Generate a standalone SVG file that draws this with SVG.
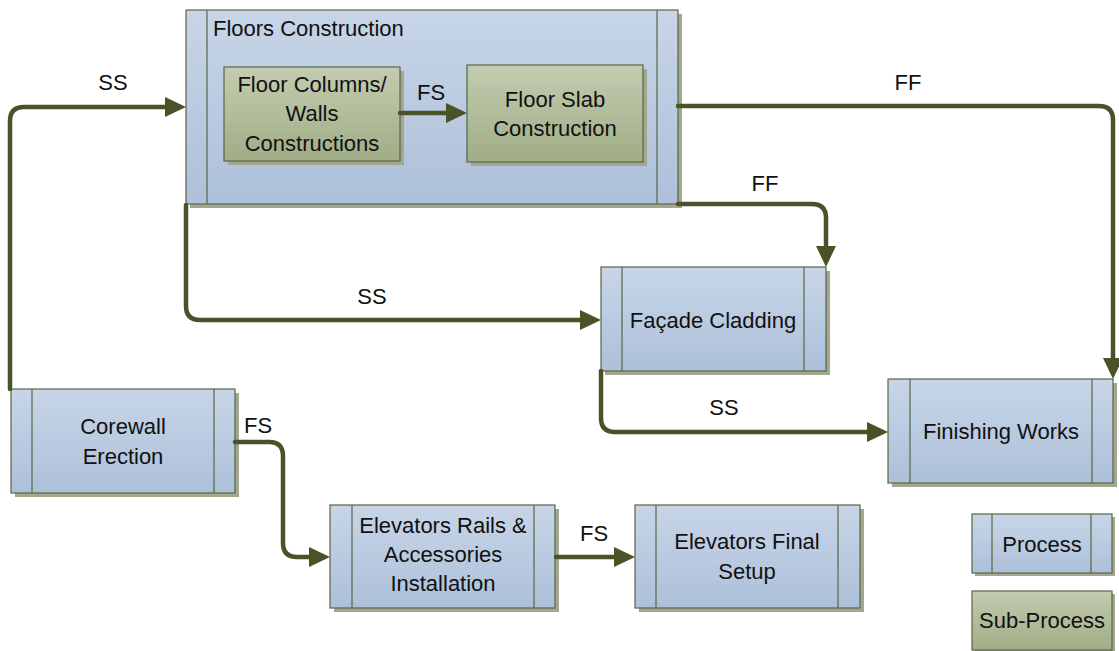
<svg xmlns="http://www.w3.org/2000/svg" width="1119" height="651" viewBox="0 0 1119 651">
  <defs>
    <linearGradient id="procFill" x1="0" y1="0" x2="0" y2="1">
      <stop offset="0" stop-color="#c7d5e7"/>
      <stop offset="1" stop-color="#adc0da"/>
    </linearGradient>
    <linearGradient id="subFill" x1="0" y1="0" x2="0" y2="1">
      <stop offset="0" stop-color="#c3ccb0"/>
      <stop offset="1" stop-color="#a0ad86"/>
    </linearGradient>
    <marker id="arrow" markerUnits="userSpaceOnUse" markerWidth="22" markerHeight="20" refX="0" refY="10" orient="auto" overflow="visible">
      <path d="M0,0 L21,10 L0,20 Z" fill="#4a5228"/>
    </marker>
  </defs>
  <style>
    .shadow { fill: #a3a78f; }
    .proc { fill: url(#procFill); stroke: #5a6446; stroke-width: 1.2; }
    .sub { fill: url(#subFill); stroke: #5a6446; stroke-width: 1.2; }
    .bar { stroke: #5a6446; stroke-width: 1.2; }
    .label { font-family: "Liberation Sans", Arial, sans-serif; font-size: 22px; fill: #111111; text-anchor: middle; }
    .title { font-family: "Liberation Sans", Arial, sans-serif; font-size: 22px; fill: #111111; }
    .conn { fill: none; stroke: #4a5228; stroke-width: 4.5; stroke-linecap: round; stroke-linejoin: round; }
    .arrowed { marker-end: url(#arrow); }
  </style>

  <rect width="1119" height="651" fill="#ffffff"/>

  <!-- Floors Construction (container process) -->
  <g id="floors-construction">
    <rect class="shadow" x="190" y="14" width="492" height="194"/>
    <rect class="proc" x="186" y="10" width="492" height="194"/>
    <line class="bar" x1="207" y1="10" x2="207" y2="204"/>
    <line class="bar" x1="657" y1="10" x2="657" y2="204"/>
    <text class="title" x="213" y="36">Floors Construction</text>
  </g>

  <!-- Sub-processes inside Floors Construction -->
  <g id="floor-columns">
    <rect class="shadow" x="228" y="71" width="176" height="94"/>
    <rect class="sub" x="224" y="67" width="176" height="94"/>
    <text class="label" x="312" y="92">Floor Columns/</text>
    <text class="label" x="312" y="121">Walls</text>
    <text class="label" x="312" y="151">Constructions</text>
  </g>

  <g id="floor-slab">
    <rect class="shadow" x="471" y="69" width="176" height="97"/>
    <rect class="sub" x="467" y="65" width="176" height="97"/>
    <text class="label" x="555" y="107">Floor Slab</text>
    <text class="label" x="555" y="136">Construction</text>
  </g>

  <!-- Processes -->
  <g id="corewall-erection">
    <rect class="shadow" x="15" y="393" width="224" height="104"/>
    <rect class="proc" x="11" y="389" width="224" height="104"/>
    <line class="bar" x1="32" y1="389" x2="32" y2="493"/>
    <line class="bar" x1="214" y1="389" x2="214" y2="493"/>
    <text class="label" x="123" y="434">Corewall</text>
    <text class="label" x="123" y="464">Erection</text>
  </g>

  <g id="facade-cladding">
    <rect class="shadow" x="605" y="271" width="225" height="104"/>
    <rect class="proc" x="601" y="267" width="225" height="104"/>
    <line class="bar" x1="622" y1="267" x2="622" y2="371"/>
    <line class="bar" x1="804" y1="267" x2="804" y2="371"/>
    <text class="label" x="713" y="328">Façade Cladding</text>
  </g>

  <g id="finishing-works">
    <rect class="shadow" x="892" y="383" width="225" height="104"/>
    <rect class="proc" x="888" y="379" width="225" height="104"/>
    <line class="bar" x1="910" y1="379" x2="910" y2="483"/>
    <line class="bar" x1="1092" y1="379" x2="1092" y2="483"/>
    <text class="label" x="1001" y="439">Finishing Works</text>
  </g>

  <g id="elevators-rails">
    <rect class="shadow" x="334" y="509" width="225" height="103"/>
    <rect class="proc" x="330" y="505" width="225" height="103"/>
    <line class="bar" x1="352" y1="505" x2="352" y2="608"/>
    <line class="bar" x1="534" y1="505" x2="534" y2="608"/>
    <text class="label" x="443" y="533">Elevators Rails &amp;</text>
    <text class="label" x="443" y="562">Accessories</text>
    <text class="label" x="443" y="591">Installation</text>
  </g>

  <g id="elevators-final-setup">
    <rect class="shadow" x="639" y="509" width="225" height="103"/>
    <rect class="proc" x="635" y="505" width="225" height="103"/>
    <line class="bar" x1="656" y1="505" x2="656" y2="608"/>
    <line class="bar" x1="838" y1="505" x2="838" y2="608"/>
    <text class="label" x="747" y="549">Elevators Final</text>
    <text class="label" x="747" y="579">Setup</text>
  </g>

  <!-- Legend -->
  <g id="legend-process">
    <rect class="shadow" x="975" y="517" width="140" height="59"/>
    <rect class="proc" x="972" y="514" width="140" height="59"/>
    <line class="bar" x1="992" y1="514" x2="992" y2="573"/>
    <line class="bar" x1="1091" y1="514" x2="1091" y2="573"/>
    <text class="label" x="1042" y="552">Process</text>
  </g>

  <g id="legend-sub-process">
    <rect class="shadow" x="975" y="594" width="140" height="59"/>
    <rect class="sub" x="972" y="591" width="140" height="59"/>
    <text class="label" x="1042" y="628">Sub-Process</text>
  </g>

  <!-- Dependency connectors -->
  <g id="connectors">
    <path class="conn arrowed" d="M10,389 V121 Q10,107 24,107 H165"/>
    <path class="conn arrowed" d="M678,106 H1099 Q1113,106 1113,120 V358"/>
    <path class="conn arrowed" d="M678,204 H812 Q826,204 826,218 V246"/>
    <path class="conn arrowed" d="M186,205 V306 Q186,320 200,320 H580"/>
    <path class="conn arrowed" d="M601,371 V418 Q601,432 615,432 H867"/>
    <path class="conn arrowed" d="M235,442 H269 Q283,442 283,456 V543 Q283,557 297,557 H309"/>
    <path class="conn arrowed" d="M556,557 H614"/>
    <path class="conn arrowed" d="M400,113 H446"/>

    <text class="label" x="113" y="90">SS</text>
    <text class="label" x="908" y="90">FF</text>
    <text class="label" x="765" y="191">FF</text>
    <text class="label" x="372" y="304">SS</text>
    <text class="label" x="724" y="415">SS</text>
    <text class="label" x="258" y="433">FS</text>
    <text class="label" x="594" y="541">FS</text>
    <text class="label" x="431" y="100">FS</text>
  </g>
</svg>
